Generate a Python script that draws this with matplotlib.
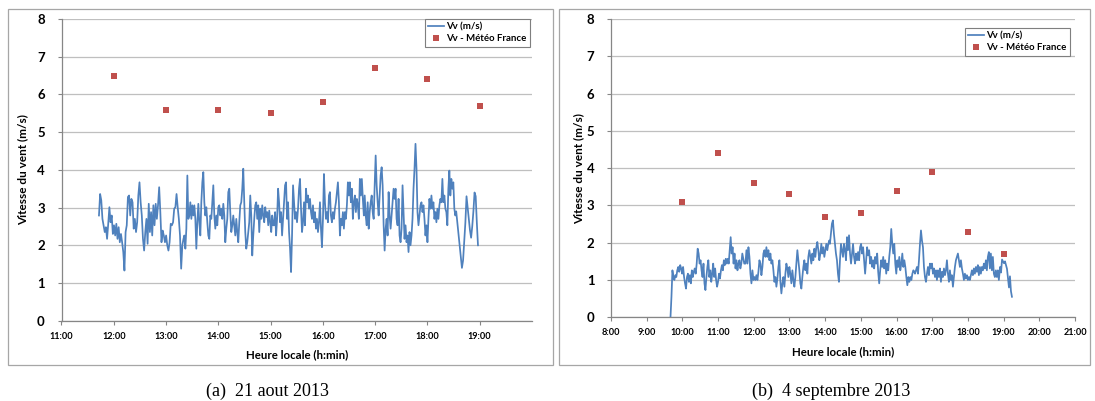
import numpy as np
import matplotlib
matplotlib.use("Agg")
import matplotlib.pyplot as plt
from matplotlib.ticker import FuncFormatter, MultipleLocator
from matplotlib.patches import Rectangle

# ---------------- data : panel (a) 21 aout 2013 ----------------
a_segment_bounds = [("11:43", "13:20"), ("13:21", "15:03"), ("15:04", "16:47"),
                    ("16:48", "18:32"), ("18:33", "18:58")]
a_vv_seg1 = [2.79, 3.36, 3.19, 2.70, 2.53, 2.35, 2.48, 2.17, 2.57, 3.01, 2.61, 2.79, 2.30, 2.53, 2.26,
             2.57, 2.17, 2.48, 2.08, 2.30, 2.08, 1.82, 1.33, 2.35, 2.53, 3.28, 3.32, 2.79, 3.23, 3.14,
             2.44, 2.70, 2.35, 2.61, 3.32, 3.67, 3.14, 2.79, 2.17, 1.86, 2.35, 2.70, 2.04, 3.10, 2.35,
             2.88, 2.26, 3.06, 2.53, 3.10, 2.70, 3.06, 3.54, 2.88, 2.08, 2.39, 2.26, 2.08, 2.26, 2.00,
             1.86, 2.08, 2.57, 2.53, 2.61, 2.97, 3.01, 3.36, 3.01, 2.70, 2.26, 1.38, 2.00, 2.17]
a_vv_seg2 = [2.26, 1.91, 2.44, 3.85, 2.70, 2.79, 3.14, 2.70, 3.06, 2.79, 3.06, 2.70, 1.91, 2.61, 3.10,
             2.61, 2.26, 3.14, 3.67, 3.94, 3.14, 2.79, 3.01, 2.61, 2.26, 2.17, 2.79, 2.70, 3.14, 3.59,
             2.79, 2.44, 2.79, 2.53, 3.01, 3.06, 2.79, 2.97, 2.70, 3.10, 2.79, 2.08, 2.44, 2.70, 3.41,
             3.50, 2.88, 2.35, 2.53, 2.79, 2.53, 2.26, 2.70, 2.35, 2.08, 2.61, 3.06, 3.14, 3.50, 4.03,
             3.14, 2.35, 1.91, 2.08, 2.35, 2.61, 3.32, 2.79, 1.73, 2.26, 2.70, 3.06, 3.14, 2.70, 3.06,
             2.35, 2.97, 2.70, 3.06, 2.79, 2.61, 3.01, 2.75, 2.88, 2.53, 2.92, 2.61, 2.35, 2.79, 2.53]
a_vv_seg3 = [2.53, 2.88, 2.26, 2.70, 3.50, 3.14, 2.61, 2.88, 2.26, 2.70, 3.14, 3.59, 3.67, 2.70, 3.14,
             2.35, 1.91, 1.29, 2.26, 3.59, 3.14, 2.70, 2.88, 2.61, 2.97, 3.50, 3.76, 2.97, 2.35, 2.61,
             3.14, 2.53, 3.50, 3.14, 3.32, 2.97, 3.23, 2.88, 2.70, 3.06, 2.61, 2.88, 2.44, 2.70, 2.35,
             2.61, 3.14, 2.44, 1.95, 2.70, 3.89, 3.14, 2.70, 2.88, 2.61, 3.32, 3.41, 2.79, 2.61, 2.88,
             2.70, 2.97, 3.14, 3.41, 3.67, 3.14, 2.26, 2.70, 2.53, 2.88, 2.44, 2.88, 2.70, 3.06, 3.67,
             3.32, 3.67, 3.14, 3.50, 2.70, 3.14, 3.32, 2.88, 3.23, 3.06, 2.70, 3.76, 3.32, 3.76, 3.23, 2.79]
a_vv_seg4 = [3.32, 2.79, 2.53, 3.14, 2.44, 2.88, 3.14, 3.32, 2.88, 2.70, 3.59, 4.38, 3.59, 3.14, 2.79,
             3.32, 3.85, 4.07, 3.59, 2.53, 1.86, 2.44, 2.70, 2.26, 3.41, 2.79, 2.44, 2.79, 3.14, 3.50,
             3.23, 3.50, 2.70, 2.53, 3.23, 2.26, 2.08, 2.44, 3.59, 2.88, 2.17, 2.53, 2.08, 2.26, 1.82,
             2.35, 2.00, 2.26, 2.70, 3.50, 4.03, 4.69, 4.03, 2.88, 2.53, 2.79, 3.06, 3.14, 2.88, 3.06,
             2.70, 2.26, 2.53, 2.08, 2.70, 3.23, 2.97, 3.32, 2.97, 3.14, 2.70, 2.88, 2.61, 2.97, 2.70,
             3.06, 3.23, 3.14, 3.76, 3.14, 3.32, 2.97, 2.88, 2.53, 3.50, 3.98, 3.32, 3.76, 3.50, 3.67,
             2.97, 2.79]
a_vv_seg5 = [2.9, 2.6, 2.3, 2.0, 1.7, 1.4, 1.6, 2.1, 2.6, 3.3, 3.0, 2.7, 2.4, 2.2, 2.5, 2.9, 3.4,
             3.3, 2.6, 2.0]
a_mf_times = ["12:00", "13:00", "14:00", "15:00", "16:00", "17:00", "18:00", "19:00"]
a_mf_values = [6.5, 5.6, 5.6, 5.5, 5.8, 6.7, 6.4, 5.7]
a_xticks = ["11:00", "12:00", "13:00", "14:00", "15:00", "16:00", "17:00", "18:00", "19:00"]

# ---------------- data : panel (b) 4 septembre 2013 ----------------
b_segment_bounds = [("9:40", "11:44"), ("11:46", "14:07"), ("14:08", "16:30"),
                    ("16:31", "18:52"), ("18:54", "19:14")]
b_vv_seg1 = [0.00, 0.55, 1.26, 1.08, 1.00, 1.13, 1.08, 1.26, 1.35, 1.22, 1.40, 1.31, 1.17, 1.35, 1.08,
             0.91, 0.77, 1.08, 1.17, 0.95, 1.13, 0.91, 1.26, 1.08, 1.22, 1.31, 1.17, 1.44, 1.84, 1.71,
             1.44, 1.53, 1.26, 1.08, 1.44, 0.91, 0.73, 1.08, 1.35, 1.53, 1.08, 1.26, 0.95, 1.17, 1.44,
             1.08, 1.31, 1.00, 0.82, 0.95, 1.17, 1.04, 1.26, 1.40, 1.26, 1.53, 1.40, 1.57, 1.44, 1.57,
             1.44, 1.80, 2.15, 1.71, 1.88, 1.44, 1.71, 1.31, 1.53, 1.26, 1.44, 1.53, 1.31, 1.44, 1.71,
             1.57, 1.44]
b_vv_seg2 = [1.44, 1.80, 1.44, 1.88, 1.62, 1.17, 0.91, 1.26, 1.00, 1.08, 1.00, 1.13, 1.00, 1.22, 1.53,
             1.44, 1.13, 1.35, 1.71, 1.80, 1.62, 1.88, 1.62, 1.80, 1.53, 1.71, 1.44, 1.53, 1.26, 0.95,
             1.08, 0.82, 1.04, 1.35, 1.53, 0.95, 0.64, 0.91, 1.08, 0.82, 1.17, 1.44, 1.31, 1.08, 1.35,
             1.17, 0.91, 1.26, 1.00, 0.82, 1.08, 1.44, 1.80, 1.53, 1.26, 0.91, 0.77, 1.08, 1.35, 1.53,
             1.26, 1.44, 1.17, 1.62, 1.80, 1.62, 1.44, 1.71, 1.53, 1.84, 1.62, 1.88, 2.02, 1.80, 1.53,
             1.71, 1.97, 1.71, 1.88, 1.62, 1.80, 1.97, 1.80, 1.97, 2.06]
b_vv_seg3 = [1.97, 2.24, 2.51, 2.60, 2.24, 1.97, 1.71, 1.53, 1.17, 0.95, 1.53, 1.97, 1.80, 1.62, 1.97,
             1.80, 1.53, 2.15, 1.80, 2.20, 1.71, 1.44, 1.71, 1.97, 1.62, 1.44, 1.71, 1.53, 1.75, 1.53,
             1.88, 1.97, 1.71, 1.88, 1.53, 1.17, 1.53, 1.88, 1.66, 1.80, 1.44, 1.62, 1.35, 1.53, 1.31,
             1.62, 1.44, 1.71, 1.22, 0.91, 1.26, 1.53, 1.35, 1.62, 1.31, 1.53, 1.17, 1.44, 1.26, 1.62,
             1.88, 2.37, 1.97, 1.71, 1.97, 1.44, 1.17, 1.53, 1.35, 1.62, 1.26, 1.44, 1.71, 1.35, 1.53,
             1.35, 1.08, 0.86, 1.08, 0.95, 1.08, 1.00, 1.17, 1.26, 1.22]
b_vv_seg4 = [1.17, 1.26, 1.35, 1.17, 1.53, 1.97, 2.33, 2.06, 1.88, 1.35, 1.08, 0.95, 1.17, 1.35, 1.13,
             1.44, 1.31, 1.44, 1.17, 1.31, 1.08, 1.26, 1.00, 1.26, 1.08, 1.31, 0.95, 1.22, 1.08, 1.31,
             1.13, 1.26, 1.53, 1.17, 0.95, 1.26, 1.00, 1.13, 0.82, 1.08, 1.35, 1.53, 1.62, 1.71, 1.53,
             1.35, 1.53, 1.31, 1.17, 1.00, 1.17, 1.04, 1.13, 1.00, 1.08, 1.00, 1.13, 1.26, 1.13, 1.31,
             1.17, 1.35, 1.22, 1.40, 1.13, 1.35, 1.17, 1.35, 1.26, 1.44, 1.31, 1.53, 1.26, 1.62, 1.75,
             1.31, 1.71, 1.26, 1.62, 1.17, 1.08, 1.26, 1.08, 1.26, 1.00]
b_vv_seg5 = [1.35, 1.20, 1.55, 1.50, 1.45, 1.50, 1.40, 1.30, 1.05, 0.80, 1.10, 0.70, 0.55]
b_mf_times = ["10:00", "11:00", "12:00", "13:00", "14:00", "15:00", "16:00", "17:00", "18:00", "19:00"]
b_mf_values = [3.1, 4.4, 3.6, 3.3, 2.7, 2.8, 3.4, 3.9, 2.3, 1.7]
b_xticks = ["8:00", "9:00", "10:00", "11:00", "12:00", "13:00", "14:00", "15:00", "16:00",
            "17:00", "18:00", "19:00", "20:00", "21:00"]


def hours(s):
    h, m = s.split(":")
    return int(h) + int(m) / 60.0


def build_series(bounds, segments):
    xs, ys = [], []
    for (t0, t1), vals in zip(bounds, segments):
        xs.append(np.linspace(hours(t0), hours(t1), len(vals)))
        ys.append(np.asarray(vals, dtype=float))
    return np.concatenate(xs), np.concatenate(ys)


a_x, a_y = build_series(a_segment_bounds, [a_vv_seg1, a_vv_seg2, a_vv_seg3, a_vv_seg4, a_vv_seg5])
b_x, b_y = build_series(b_segment_bounds, [b_vv_seg1, b_vv_seg2, b_vv_seg3, b_vv_seg4, b_vv_seg5])

# ---------------- style ----------------
W, H = 1095, 401
FONT = "Lato"
LINE_C = "#4F81BD"
MARK_C = "#C0504D"
GRID_C = "#BFBFBF"
AXIS_C = "#868686"

fig = plt.figure(figsize=(W / 100, H / 100), dpi=100)
fig.patch.set_facecolor("white")


def fx(px):
    return px / W


def fy(py):
    return 1 - py / H


# outer panel boxes
for x0, x1 in [(8, 553), (559, 1090)]:
    fig.patches.append(Rectangle((fx(x0), fy(365)), fx(x1) - fx(x0), fy(9) - fy(365),
                                 transform=fig.transFigure, fill=False,
                                 edgecolor="#A6A6A6", linewidth=0.9))


def fmt_time(v, pos=None):
    h = int(np.floor(v + 1e-9))
    m = int(round((v - h) * 60))
    return f"{h}:{m:02d}"


def make_panel(rect_px, xlim, xticks, x, y, mf_t, mf_v, legend_px, ylabel_px):
    l, r, t, b = rect_px
    ax = fig.add_axes([fx(l), fy(b), fx(r) - fx(l), fy(t) - fy(b)])
    ax.plot(x, y, color=LINE_C, linewidth=1.25, label="Vv (m/s)", zorder=3)
    ax.plot([hours(s) for s in mf_t], mf_v, linestyle="none", marker="s", markersize=4.4,
            color=MARK_C, markeredgewidth=0, label="Vv - Météo France", zorder=4)
    ax.set_xlim(*xlim)
    ax.set_ylim(0, 8)
    ax.set_xticks([hours(s) for s in xticks])
    ax.xaxis.set_major_formatter(FuncFormatter(fmt_time))
    ax.yaxis.set_major_locator(MultipleLocator(1))
    ax.grid(axis="y", color=GRID_C, linewidth=0.9)
    ax.grid(axis="x", visible=False)
    ax.set_axisbelow(True)
    for s in ["top", "right"]:
        ax.spines[s].set_visible(False)
    for s in ["left", "bottom"]:
        ax.spines[s].set_color(AXIS_C)
        ax.spines[s].set_linewidth(0.9)
    ax.tick_params(axis="y", length=3, color=AXIS_C, pad=9, labelsize=9.5)
    ax.tick_params(axis="x", length=3, color=AXIS_C, pad=5, labelsize=6.6)
    for lab in ax.get_xticklabels() + ax.get_yticklabels():
        lab.set_fontfamily(FONT)
        lab.set_fontweight("bold")
    ax.set_xlabel("Heure locale (h:min)", fontfamily=FONT, fontweight="bold", fontsize=8.3,
                  labelpad=6)
    ax.set_ylabel("Vitesse du vent (m/s)", fontfamily=FONT, fontweight="bold", fontsize=8.5)
    ax.yaxis.set_label_coords((ylabel_px - l) / (r - l), 0.5)
    leg = ax.legend(loc="upper right", bbox_to_anchor=(fx(legend_px[0]), fy(legend_px[1])),
                    bbox_transform=fig.transFigure, borderaxespad=0, fancybox=False,
                    framealpha=1, edgecolor="#7F7F7F", handlelength=1.7, handletextpad=0.2,
                    borderpad=0.35, labelspacing=0.3,
                    prop={"family": FONT, "weight": "bold", "size": 6.9})
    leg.get_frame().set_linewidth(0.8)
    return ax


make_panel((61.5, 532, 19, 320.7), (11, 20), a_xticks, a_x, a_y, a_mf_times, a_mf_values,
           (530, 19), 28)
make_panel((611, 1075, 19, 317.3), (8, 21), b_xticks, b_x, b_y, b_mf_times, b_mf_values,
           (1070, 28), 584)

fig.text(fx(267), fy(391), "(a)  21 aout 2013", family="Liberation Serif", fontsize=13,
         ha="center", va="center")
fig.text(fx(831), fy(391), "(b)  4 septembre 2013", family="Liberation Serif", fontsize=13,
         ha="center", va="center")

fig.savefig("out.png", dpi=100, facecolor="white")
